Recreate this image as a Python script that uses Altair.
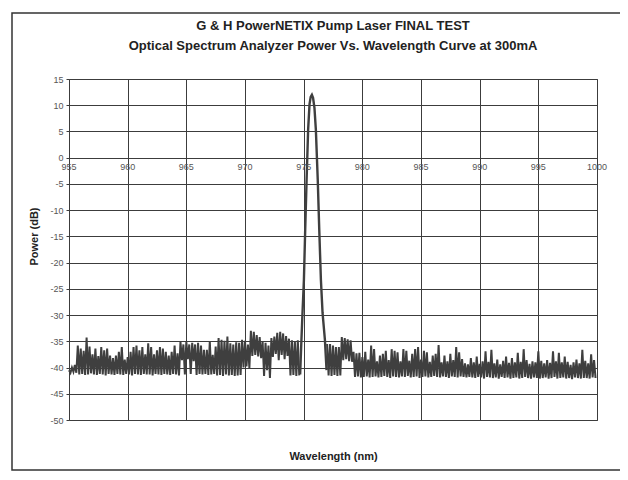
import altair as alt
import pandas as pd

TITLE_LINES = [
    "G & H PowerNETIX Pump Laser FINAL TEST",
    "Optical Spectrum Analyzer Power Vs. Wavelength Curve at 300mA",
]
X_TITLE = "Wavelength (nm)"
Y_TITLE = "Power (dB)"
X_TICKS = [955, 960, 965, 970, 975, 980, 985, 990, 995, 1000]
Y_TICKS = [-50, -45, -40, -35, -30, -25, -20, -15, -10, -5, 0, 5, 10, 15]

STEP = 0.25
LEFT_START = 955.0
left_hi = [
    -40.5, -40.0, -39.5, -35.8, -36.4, -36.8, -34.3, -36.0,
    -37.5, -36.4, -37.8, -36.1, -36.7, -36.4, -37.7, -38.2,
    -37.7, -37.0, -36.1, -38.5, -38.0, -37.0, -36.1, -35.8,
    -36.7, -36.1, -37.5, -35.4, -36.1, -37.5, -36.7, -36.1,
    -36.4, -37.0, -37.7, -37.0, -35.8, -37.3, -35.1, -35.6,
    -35.1, -35.6, -35.3, -35.6, -35.3, -35.8, -36.6, -36.6,
    -35.0, -37.6, -36.0, -34.4, -34.7, -34.9, -34.1, -35.4,
    -35.6, -35.2, -35.3, -34.7, -34.9, -35.6, -33.0, -33.2,
    -33.8, -34.2, -35.0, -35.3, -35.8, -34.4, -34.1, -33.4,
    -33.2, -33.5, -34.0, -34.5, -34.8, -35.0, -34.8,
]
left_lo = [
    -41.0, -40.8, -41.0, -41.3, -41.2, -41.4, -41.3, -41.1,
    -41.3, -41.4, -41.2, -41.3, -41.5, -41.2, -41.3, -41.4,
    -41.2, -41.3, -41.4, -41.2, -41.3, -41.5, -41.2, -41.3,
    -41.4, -41.2, -41.3, -41.3, -41.5, -41.2, -41.3, -41.4,
    -41.2, -41.3, -41.4, -41.2, -41.3, -41.5, -38.6, -41.3,
    -38.4, -41.2, -38.8, -41.4, -41.2, -41.3, -41.2, -41.4,
    -41.3, -41.2, -41.5, -41.4, -41.6, -41.3, -41.5, -41.4,
    -41.6, -41.5, -41.4, -40.0, -39.8, -40.1, -37.8, -37.6,
    -37.9, -38.2, -41.6, -40.5, -42.0, -38.0, -37.4, -38.6,
    -37.6, -38.4, -37.8, -41.5, -41.4, -41.6, -41.5,
]
peak_wl = [974.70, 974.81, 974.90, 975.02, 975.13, 975.25, 975.38, 975.50,
           975.60, 975.70, 975.80, 975.92, 976.04, 976.20, 976.33, 976.47,
           976.61, 976.81, 976.95]
peak_db = [-41.3, -34.7, -29.6, -23.3, -13.8, -4.2, 5.3, 10.2,
           11.6, 12.0, 11.4, 9.5, 5.3, -4.2, -13.8, -23.3,
           -29.6, -34.7, -40.5]
RIGHT_START = 977.0
right_hi = [
    -35.5, -35.5, -35.8, -36.1, -36.1, -34.2, -34.4, -34.6,
    -34.8, -37.0, -37.3, -37.2, -38.0, -37.0, -38.5, -35.8,
    -36.5, -38.8, -37.7, -37.4, -36.8, -38.6, -36.5, -36.8,
    -37.1, -38.8, -36.5, -36.8, -38.7, -37.4, -36.5, -36.1,
    -38.5, -36.8, -37.1, -38.9, -37.7, -37.4, -35.7, -39.0,
    -37.7, -38.8, -37.4, -38.6, -36.1, -37.1, -38.4, -39.2,
    -39.4, -38.2, -39.0, -37.9, -39.3, -38.8, -36.9, -38.9,
    -36.6, -39.2, -38.5, -39.4, -38.7, -37.9, -39.1, -38.2,
    -39.0, -37.2, -38.9, -36.5, -38.6, -39.3, -38.8, -39.0,
    -36.9, -38.7, -39.2, -38.6, -39.1, -36.9, -38.8, -37.2,
    -39.0, -37.9, -38.9, -39.5, -39.0, -38.5, -39.2, -36.6,
    -38.7, -39.2, -37.5, -38.6,
]
right_lo = [
    -41.5, -41.6, -41.4, -41.6, -41.5, -38.6, -38.4, -38.8,
    -38.9, -41.8, -41.7, -41.9, -41.8, -41.7, -41.9, -41.8,
    -41.7, -41.9, -41.8, -41.6, -41.8, -42.0, -41.7, -41.8,
    -41.9, -41.7, -41.8, -41.6, -41.9, -41.8, -41.7, -42.0,
    -41.8, -41.7, -41.9, -41.8, -41.6, -41.8, -41.9, -41.7,
    -41.8, -42.0, -41.7, -41.8, -41.9, -41.7, -41.8, -41.9,
    -41.8, -41.9, -42.0, -41.8, -41.9, -42.1, -41.8, -41.9,
    -42.0, -41.9, -42.1, -41.8, -42.0, -41.9, -42.1, -42.0,
    -41.9, -42.1, -42.0, -41.8, -42.0, -42.1, -41.9, -42.0,
    -42.1, -42.0, -41.9, -42.1, -42.0, -41.8, -42.1, -42.0,
    -41.9, -42.1, -42.0, -42.2, -41.9, -42.0, -42.1, -42.0,
    -42.0, -42.1, -41.9, -42.0,
]

rows = []


def add_noise(start, hi, lo, part):
    for i, (h, l) in enumerate(zip(hi, lo)):
        w = start + i * STEP
        rows.append({"wl": w, "db": h, "part": part})
        rows.append({"wl": w + STEP / 2, "db": l, "part": part})


add_noise(LEFT_START, left_hi, left_lo, "left")
add_noise(RIGHT_START, right_hi, right_lo, "right")
noise_df = pd.DataFrame(rows)
peak_df = pd.DataFrame({"wl": peak_wl, "db": peak_db})
xlab_df = pd.DataFrame({"wl": X_TICKS, "db": [0] * len(X_TICKS),
                        "label": [str(v) for v in X_TICKS]})

FONT = "Liberation Sans"
GRID = "#3c3c3c"
TRACE = "#3f3f3f"

xscale = alt.Scale(domain=[955, 1000], nice=False, zero=False)
yscale = alt.Scale(domain=[-50, 15], nice=False, zero=False)

x_axis = alt.Axis(values=X_TICKS, labels=False, ticks=False, domain=False,
                  grid=True, gridColor=GRID, gridOpacity=1, gridWidth=1,
                  title=X_TITLE, titleFont=FONT, titleFontSize=11,
                  titleFontWeight="bold", titleColor="#222", titlePadding=30)
y_axis = alt.Axis(values=Y_TICKS, labelExpr="'' + datum.value", grid=True,
                  gridColor=GRID, gridOpacity=1, gridWidth=1, domain=False,
                  ticks=True, tickSize=3, tickColor=GRID, labelPadding=3,
                  labelOverlap=False, labelFlush=False,
                  labelFont=FONT, labelFontSize=9, labelColor="#555",
                  title=Y_TITLE, titleFont=FONT, titleFontSize=11,
                  titleFontWeight="bold", titleColor="#222", titlePadding=10,
                  titleY=157)

X_ENC = alt.X("wl:Q", scale=xscale, axis=x_axis, title=X_TITLE)
Y_ENC = alt.Y("db:Q", scale=yscale, axis=y_axis, title=Y_TITLE)

noise = alt.Chart(noise_df).mark_line(strokeWidth=2.0, color=TRACE).encode(
    x=X_ENC, y=Y_ENC, detail="part:N",
)
peak = alt.Chart(peak_df).mark_line(strokeWidth=2.4, color=TRACE).encode(
    x=X_ENC, y=Y_ENC
)
xlabels = alt.Chart(xlab_df).mark_text(
    dy=9, font=FONT, fontSize=9, color="#555"
).encode(x=X_ENC, y=Y_ENC, text="label:N")

frame = alt.Chart(alt.Data(values=[{"f": 1}])).mark_rect(
    fillOpacity=0, stroke="#333", strokeWidth=1.5
).encode(
    x=alt.value(-57), x2=alt.value(554), y=alt.value(-66), y2=alt.value(391)
)

chart = alt.layer(frame, noise, peak, xlabels).properties(
    width=528,
    height=341,
    title=alt.TitleParams(text=TITLE_LINES, font=FONT, fontSize=13,
                          fontWeight="bold", color="#222", lineHeight=20,
                          anchor="middle", offset=0, dy=41),
    autosize=alt.AutoSizeParams(type="none"),
    padding={"left": 61, "top": 71, "right": 23, "bottom": 52},
    background="white",
).configure_view(stroke="#555", strokeWidth=1)

chart.save("out.html", embed_options={"renderer": "svg", "actions": False})
